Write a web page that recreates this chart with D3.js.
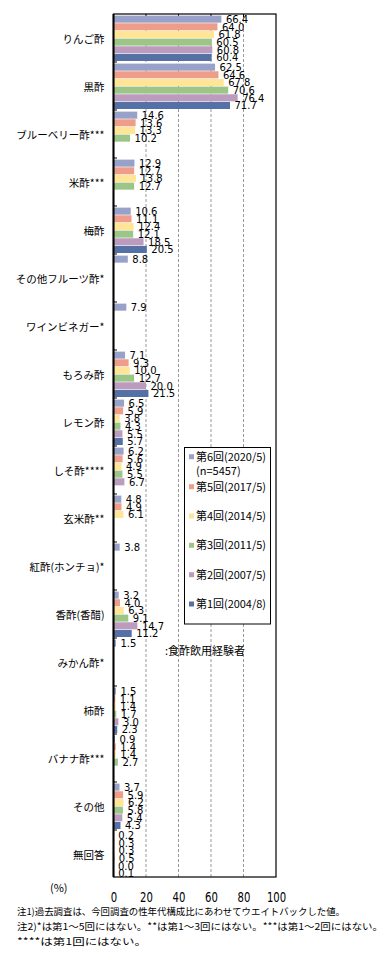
<!doctype html>
<html>
<head>
<meta charset="utf-8">
<script src="https://d3js.org/d3.v7.min.js"></script>
<style>
  body { margin: 0; background: #fff; }
  svg { display: block; }
  .jp { font-family: "Noto Sans CJK JP", sans-serif; fill: #000; }
  .num { font-family: "DejaVu Sans", sans-serif; fill: #000; }
</style>
</head>
<body>
<div id="chart"></div>
<script>
// categories (top to bottom)
var categories = ["りんご酢", "黒酢", "ブルーベリー酢***", "米酢***", "梅酢", "その他フルーツ酢*",
  "ワインビネガー*", "もろみ酢", "レモン酢", "しそ酢****", "玄米酢**", "紅酢(ホンチョ)*",
  "香酢(香醋)", "みかん酢*", "柿酢", "バナナ酢***", "その他", "無回答"];

// one array per survey round, aligned with categories (null = not asked)
var r6 = [66.4, 62.5, 14.6, 12.9, 10.6, 8.8, 7.9, 7.1, 6.5, 6.2, 4.8, 3.8, 3.2, 1.5, 1.5, 0.9, 3.7, 0.2];
var r5 = [64.0, 64.6, 13.6, 12.7, 11.1, null, null, 9.3, 5.9, 5.6, 4.9, null, 4.0, null, 1.1, 1.4, 5.9, 0.3];
var r4 = [61.8, 67.8, 13.3, 13.8, 12.4, null, null, 10.0, 3.8, 4.9, 6.1, null, 6.3, null, 1.4, 1.4, 6.2, 0.3];
var r3 = [60.5, 70.6, 10.2, 12.7, 12.1, null, null, 12.7, 4.3, 5.5, null, null, 9.1, null, 1.7, 2.7, 5.8, 0.5];
var r2 = [60.8, 76.4, null, null, 18.5, null, null, 20.0, 5.5, 6.7, null, null, 14.7, null, 3.0, null, 5.4, 0.0];
var r1 = [60.4, 71.7, null, null, 20.5, null, null, 21.5, 5.7, null, null, null, 11.2, null, 2.3, null, 4.3, 0.1];

var seriesNames = ["第6回(2020/5)", "第5回(2017/5)", "第4回(2014/5)", "第3回(2011/5)", "第2回(2007/5)", "第1回(2004/8)"];
var seriesValues = [r6, r5, r4, r3, r2, r1];
var seriesColors = ["#98a2c8", "#ee9e88", "#ffe597", "#9cc586", "#bb9bbe", "#5570a4"];
var xTicks = [0, 20, 40, 60, 80, 100];

var notes = [
  "注1)過去調査は、今回調査の性年代構成比にあわせてウエイトバックした値。",
  "注2)*は第1～5回にはない。**は第1～3回にはない。***は第1～2回にはない。",
  "****は第1回にはない。"
];
var noteWidths = [328, 366, 130];

var W = 390, H = 969;
var L = 113.5, R = 276, T = 14, B = 878;

var svg = d3.select("#chart").append("svg").attr("width", W).attr("height", H);

var x = d3.scaleLinear().domain([0, 100]).range([L, R]);
var y0 = d3.scaleBand().domain(categories).range([T, B]);
var y1 = d3.scaleBand().domain(d3.range(6)).range([1.6, y0.bandwidth() - 0.4]);

// dashed grid
svg.selectAll(".grid").data(xTicks.slice(1, -1)).enter().append("line")
  .attr("x1", function(d) { return x(d); }).attr("x2", function(d) { return x(d); })
  .attr("y1", T).attr("y2", B - 1)
  .attr("stroke", "#999").attr("stroke-dasharray", "3,2");

// top inner ticks
svg.selectAll(".tt").data(xTicks.slice(1, -1)).enter().append("line")
  .attr("x1", function(d) { return x(d); }).attr("x2", function(d) { return x(d); })
  .attr("y1", T).attr("y2", T + 3.5).attr("stroke", "#000");

// bars
var groups = svg.selectAll(".cat").data(categories).enter().append("g")
  .attr("transform", function(d) { return "translate(0," + y0(d) + ")"; });

groups.each(function(c, ci) {
  var g = d3.select(this);
  var vals = seriesValues.map(function(s, si) { return { si: si, v: s[ci] }; })
    .filter(function(d) { return d.v !== null; });
  g.selectAll("rect").data(vals).enter().append("rect")
    .attr("x", x(0)).attr("y", function(d) { return y1(d.si); })
    .attr("width", function(d) { return x(d.v) - x(0); })
    .attr("height", y1.bandwidth() - 0.6)
    .attr("fill", function(d) { return seriesColors[d.si]; });
  g.selectAll("text").data(vals).enter().append("text")
    .attr("class", "num").attr("font-size", 10)
    .attr("x", function(d) { return x(d.v) + 4.5; })
    .attr("y", function(d) { return y1(d.si) + y1.bandwidth() / 2 + 3.6; })
    .text(function(d) { return d.v.toFixed(1); });
});

// category labels
svg.selectAll(".clab").data(categories).enter().append("text")
  .attr("class", "jp").attr("font-size", 10.5).attr("text-anchor", "end")
  .attr("x", 104.5).attr("y", function(d) { return y0(d) + y0.bandwidth() / 2 + 4.5; })
  .text(function(d) { return d; });

// left inner ticks at category boundaries
svg.selectAll(".lt").data(categories.slice(1)).enter().append("line")
  .attr("x1", L).attr("x2", L + 3.5)
  .attr("y1", function(d) { return y0(d); }).attr("y2", function(d) { return y0(d); })
  .attr("stroke", "#000");

// frame
svg.append("rect").attr("x", L).attr("y", T).attr("width", R - L).attr("height", B - 1 - T)
  .attr("fill", "none").attr("stroke", "#000").attr("stroke-width", 1.2);
svg.append("line").attr("x1", L).attr("x2", L).attr("y1", T).attr("y2", B - 1)
  .attr("stroke", "#000").attr("stroke-width", 2);

// bottom axis labels
var ax = svg.append("g").attr("transform", "translate(0," + (B - 1) + ")")
  .call(d3.axisBottom(x).tickValues(xTicks).tickSize(0).tickPadding(15).tickFormat(d3.format("d")));
ax.select(".domain").remove();
ax.selectAll("text").attr("font-family", "DejaVu Sans, sans-serif").attr("font-size", 14)
  .attr("fill", "#000").attr("transform", "scale(0.72,1)");

svg.append("text").attr("class", "jp").attr("font-size", 11)
  .attr("x", 50).attr("y", 892).text("(%)");

// legend
var lg = svg.append("g");
lg.append("rect").attr("x", 184.5).attr("y", 447.5).attr("width", 86).attr("height", 176.5)
  .attr("fill", "#fff").attr("stroke", "#000").attr("stroke-width", 1);
var legY = [456.7, 486.7, 516, 545.3, 574.7, 604];
lg.selectAll(".li").data(seriesNames).enter().append("g")
  .attr("transform", function(d, i) { return "translate(189," + legY[i] + ")"; })
  .each(function(d, i) {
    var g = d3.select(this);
    g.append("rect").attr("x", 0).attr("y", -2.5).attr("width", 5).attr("height", 5)
      .attr("fill", seriesColors[i]);
    g.append("text").attr("class", "jp").attr("font-size", 11)
      .attr("x", 7).attr("y", 4).attr("textLength", 70).attr("lengthAdjust", "spacingAndGlyphs")
      .text(d);
  });
lg.append("text").attr("class", "jp").attr("font-size", 11)
  .attr("x", 196).attr("y", 474.7).text("(n=5457)");

svg.append("text").attr("class", "jp").attr("font-size", 11)
  .attr("x", 165).attr("y", 655).text(":食酢飲用経験者");

// notes
svg.selectAll(".note").data(notes).enter().append("text")
  .attr("class", "jp").attr("font-size", 9.5)
  .attr("x", 17).attr("y", function(d, i) { return 914.5 + i * 15; })
  .attr("textLength", function(d, i) { return noteWidths[i]; })
  .attr("lengthAdjust", "spacingAndGlyphs")
  .text(function(d) { return d; });
</script>
</body>
</html>
